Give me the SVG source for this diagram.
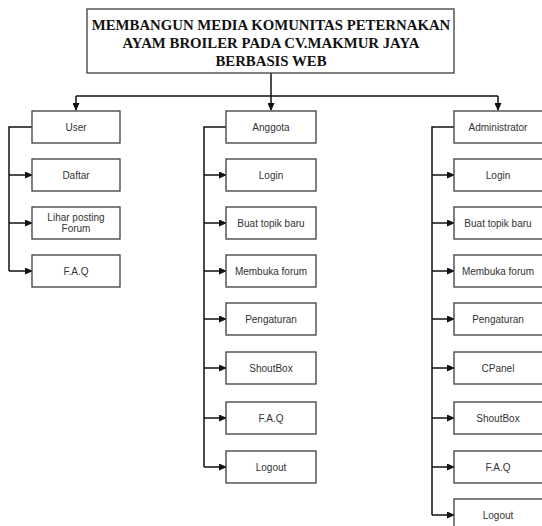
<svg xmlns="http://www.w3.org/2000/svg" width="542" height="526" viewBox="0 0 542 526">
<style>
.box{fill:#fff;stroke:#4a4a4a;stroke-width:1.4}
.lbl{font-family:"Liberation Sans",Arial,sans-serif;font-size:10px;fill:#333;text-anchor:middle}
.title{font-family:"Liberation Serif","Times New Roman",serif;font-size:14.8px;font-weight:bold;fill:#111;text-anchor:middle}
.ln{fill:none;stroke:#111;stroke-width:1.5}
</style>
<defs>
<marker id="arr" markerWidth="8" markerHeight="7" refX="7" refY="3.5" orient="auto" markerUnits="userSpaceOnUse">
<path d="M0,0 L8,3.5 L0,7 z" fill="#111"/>
</marker>
</defs>
<rect width="542" height="526" fill="#fff"/>
<g id="connectors">
<path class="ln" d="M271,73 V96"/>
<path class="ln" d="M76,96 H498"/>
<path class="ln" d="M76,96 V110" marker-end="url(#arr)"/>
<path class="ln" d="M271,96 V110" marker-end="url(#arr)"/>
<path class="ln" d="M498,96 V110" marker-end="url(#arr)"/>
<path class="ln" d="M32,127 H9 V271"/>
<path class="ln" d="M9,175 H32" marker-end="url(#arr)"/>
<path class="ln" d="M9,223 H32" marker-end="url(#arr)"/>
<path class="ln" d="M9,271 H32" marker-end="url(#arr)"/>
<path class="ln" d="M226,127 H204 V467"/>
<path class="ln" d="M204,175 H226" marker-end="url(#arr)"/>
<path class="ln" d="M204,223 H226" marker-end="url(#arr)"/>
<path class="ln" d="M204,271 H226" marker-end="url(#arr)"/>
<path class="ln" d="M204,319 H226" marker-end="url(#arr)"/>
<path class="ln" d="M204,368 H226" marker-end="url(#arr)"/>
<path class="ln" d="M204,418 H226" marker-end="url(#arr)"/>
<path class="ln" d="M204,467 H226" marker-end="url(#arr)"/>
<path class="ln" d="M454,127 H432 V515"/>
<path class="ln" d="M432,175 H454" marker-end="url(#arr)"/>
<path class="ln" d="M432,223 H454" marker-end="url(#arr)"/>
<path class="ln" d="M432,271 H454" marker-end="url(#arr)"/>
<path class="ln" d="M432,319 H454" marker-end="url(#arr)"/>
<path class="ln" d="M432,368 H454" marker-end="url(#arr)"/>
<path class="ln" d="M432,418 H454" marker-end="url(#arr)"/>
<path class="ln" d="M432,467 H454" marker-end="url(#arr)"/>
<path class="ln" d="M432,515 H454" marker-end="url(#arr)"/>
</g>
<g id="title">
<rect class="box" x="87" y="9" width="367" height="64"/>
<text class="title" x="271" y="30">MEMBANGUN MEDIA KOMUNITAS PETERNAKAN</text>
<text class="title" x="271" y="48">AYAM BROILER PADA CV.MAKMUR JAYA</text>
<text class="title" x="271" y="66">BERBASIS WEB</text>
</g>
<g id="user"><rect class="box" x="32" y="111" width="88" height="32"/><text class="lbl" x="76" y="130.5">User</text></g>
<g id="user-daftar"><rect class="box" x="32" y="159" width="88" height="32"/><text class="lbl" x="76" y="178.5">Daftar</text></g>
<g id="user-lihat"><rect class="box" x="32" y="207" width="88" height="32"/><text class="lbl" x="76" y="221">Lihar posting</text><text class="lbl" x="76" y="232">Forum</text></g>
<g id="user-faq"><rect class="box" x="32" y="255" width="88" height="32"/><text class="lbl" x="76" y="274.5">F.A.Q</text></g>

<g id="anggota"><rect class="box" x="226" y="111" width="90" height="32"/><text class="lbl" x="271" y="130.5">Anggota</text></g>
<g id="anggota-login"><rect class="box" x="226" y="159" width="90" height="32"/><text class="lbl" x="271" y="178.5">Login</text></g>
<g id="anggota-buat"><rect class="box" x="226" y="207" width="90" height="32"/><text class="lbl" x="271" y="226.5">Buat topik baru</text></g>
<g id="anggota-membuka"><rect class="box" x="226" y="255" width="90" height="32"/><text class="lbl" x="271" y="274.5">Membuka forum</text></g>
<g id="anggota-pengaturan"><rect class="box" x="226" y="303" width="90" height="32"/><text class="lbl" x="271" y="322.5">Pengaturan</text></g>
<g id="anggota-shoutbox"><rect class="box" x="226" y="352" width="90" height="32"/><text class="lbl" x="271" y="371.5">ShoutBox</text></g>
<g id="anggota-faq"><rect class="box" x="226" y="402" width="90" height="32"/><text class="lbl" x="271" y="421.5">F.A.Q</text></g>
<g id="anggota-logout"><rect class="box" x="226" y="451" width="90" height="32"/><text class="lbl" x="271" y="470.5">Logout</text></g>

<g id="admin"><rect class="box" x="454" y="111" width="89" height="32"/><text class="lbl" x="498" y="130.5">Administrator</text></g>
<g id="admin-login"><rect class="box" x="454" y="159" width="89" height="32"/><text class="lbl" x="498" y="178.5">Login</text></g>
<g id="admin-buat"><rect class="box" x="454" y="207" width="89" height="32"/><text class="lbl" x="498" y="226.5">Buat topik baru</text></g>
<g id="admin-membuka"><rect class="box" x="454" y="255" width="89" height="32"/><text class="lbl" x="498" y="274.5">Membuka forum</text></g>
<g id="admin-pengaturan"><rect class="box" x="454" y="303" width="89" height="32"/><text class="lbl" x="498" y="322.5">Pengaturan</text></g>
<g id="admin-cpanel"><rect class="box" x="454" y="352" width="89" height="32"/><text class="lbl" x="498" y="371.5">CPanel</text></g>
<g id="admin-shoutbox"><rect class="box" x="454" y="402" width="89" height="32"/><text class="lbl" x="498" y="421.5">ShoutBox</text></g>
<g id="admin-faq"><rect class="box" x="454" y="451" width="89" height="32"/><text class="lbl" x="498" y="470.5">F.A.Q</text></g>
<g id="admin-logout"><rect class="box" x="454" y="499" width="89" height="32"/><text class="lbl" x="498" y="518.5">Logout</text></g>
</svg>
